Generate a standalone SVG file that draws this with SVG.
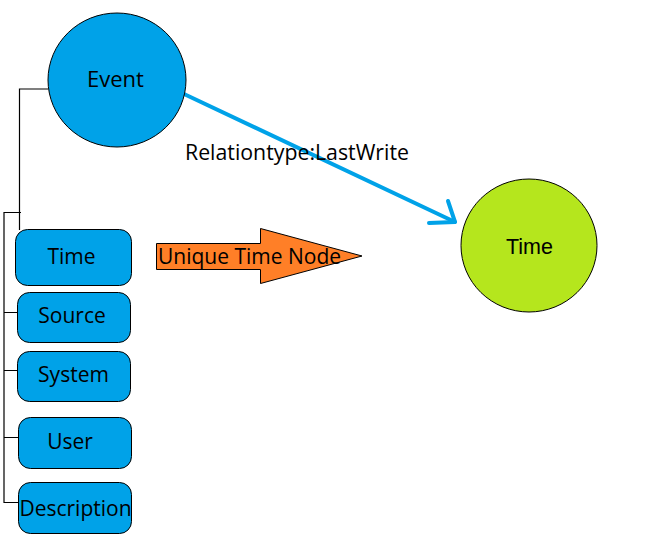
<svg xmlns="http://www.w3.org/2000/svg" width="671" height="543" viewBox="0 0 671 543">
<style>
.blue{fill:#00a2e8;stroke:#000;stroke-width:1}
.lbl{font-family:"Open Sans","Noto Sans",sans-serif;font-size:21px;fill:#000;text-anchor:middle}
.tree{fill:none;stroke:#000;stroke-width:1.2}
</style>
<rect width="671" height="543" fill="#fff"/>
<g id="connectors">
<path class="tree" d="M48,89 H19.5 V230"/>
<path class="tree" d="M21,212.5 H4 V503"/>
<path class="tree" d="M4,312.5 H17 M4,370.5 H17 M4,437.5 H18 M4,502.5 H18"/>
<line x1="184" y1="94" x2="455" y2="222" stroke="#00a2e8" stroke-width="4" stroke-linecap="round"/>
<polyline points="448,201 455,222 429,223" fill="none" stroke="#00a2e8" stroke-width="4" stroke-linecap="round" stroke-linejoin="round"/>
<text x="297" y="160" class="lbl" textLength="224" lengthAdjust="spacingAndGlyphs">Relationtype:LastWrite</text>
</g>
<g id="event">
<ellipse cx="117" cy="80" rx="69" ry="67" class="blue"/>
<text x="115.5" y="87" class="lbl" style="font-size:22px">Event</text>
</g>
<g id="box-time">
<rect x="15.5" y="229.5" width="116" height="56" rx="12" class="blue"/>
<text x="71.5" y="264" class="lbl">Time</text>
</g>
<g id="box-source">
<rect x="17.5" y="292.5" width="113" height="50" rx="12" class="blue"/>
<text x="72" y="323" class="lbl">Source</text>
</g>
<g id="box-system">
<rect x="17.5" y="351.5" width="113" height="50" rx="12" class="blue"/>
<text x="73.5" y="382" class="lbl">System</text>
</g>
<g id="box-user">
<rect x="18.5" y="417.5" width="113" height="51" rx="12" class="blue"/>
<text x="70" y="449" class="lbl">User</text>
</g>
<g id="box-description">
<rect x="18.5" y="482.5" width="113" height="51" rx="12" class="blue"/>
<text x="75.5" y="516" class="lbl">Description</text>
</g>
<g id="unique-time-node">
<polygon points="156.5,243.5 260.5,243.5 260.5,228.5 362,256 260.5,283.5 260.5,269.5 156.5,269.5" fill="#ff7f27" stroke="#000" stroke-width="1"/>
<text x="249.5" y="264" class="lbl">Unique Time Node</text>
</g>
<g id="time-node">
<ellipse cx="529" cy="245.5" rx="68" ry="66.5" fill="#b5e61d" stroke="#000" stroke-width="1"/>
<text x="529.5" y="253.5" class="lbl" style="font-family:'Liberation Sans',Arial,sans-serif;font-size:21.5px">Time</text>
</g>
</svg>
